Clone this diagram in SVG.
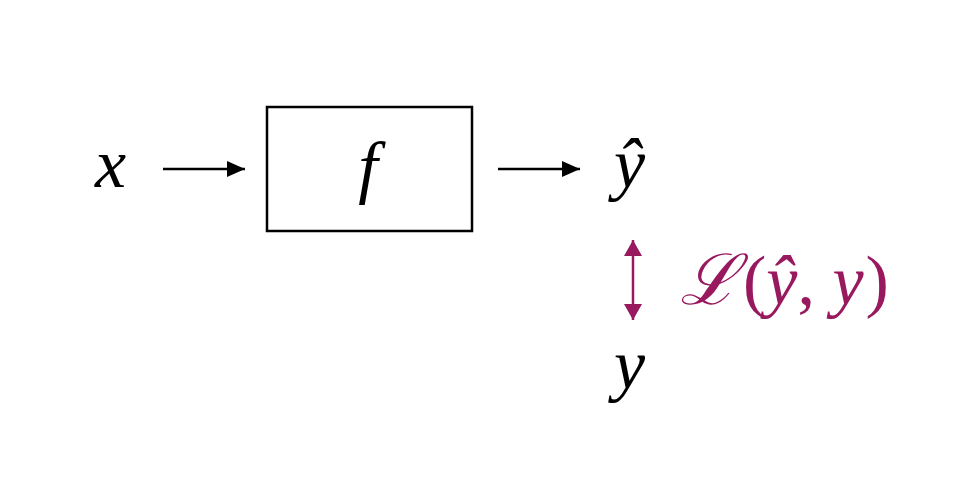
<svg xmlns="http://www.w3.org/2000/svg" width="980" height="480" viewBox="0 0 980 480">
<style>
.m{font-family:"Liberation Serif","Times New Roman",serif;font-style:italic;font-size:70px;fill:#000}
.u{font-style:normal}
.loss{fill:#99195F}
.ln{stroke:#000;stroke-width:2.5;fill:none}
</style>
<defs>
<marker id="ahk" viewBox="0 0 10 10" refX="10" refY="5" markerWidth="16" markerHeight="18" markerUnits="userSpaceOnUse" orient="auto-start-reverse" preserveAspectRatio="none"><path d="M0,0 L10,5 L0,10 z" fill="#99195F"/></marker>
<marker id="ab" viewBox="0 0 10 10" refX="10" refY="5" markerWidth="18" markerHeight="16" markerUnits="userSpaceOnUse" orient="auto" preserveAspectRatio="none"><path d="M0,0 L10,5 L0,10 z" fill="#000"/></marker>
</defs>
<g id="connectors">
<line class="ln" x1="163" y1="169" x2="245" y2="169" marker-end="url(#ab)"/>
<line class="ln" x1="498" y1="169" x2="580" y2="169" marker-end="url(#ab)"/>
<line x1="633" y1="240" x2="633" y2="320" stroke="#99195F" stroke-width="2.5" marker-start="url(#ahk)" marker-end="url(#ahk)"/>
</g>
<g id="input"><text class="m" x="95" y="187">x</text></g>
<g id="f"><rect x="267" y="107" width="205" height="124" fill="#fff" stroke="#000" stroke-width="2.5"/><text class="m" x="368" y="190" text-anchor="middle">f</text></g>
<g id="yhat"><text class="m" x="614" y="187">ŷ</text></g>
<g id="y"><text class="m" x="614" y="388">y</text></g>
<g id="loss"><text class="m loss" x="680" y="304">ℒ<tspan class="u" dx="5">(</tspan>ŷ<tspan class="u">,</tspan> y<tspan class="u" dx="2">)</tspan></text></g>
</svg>
